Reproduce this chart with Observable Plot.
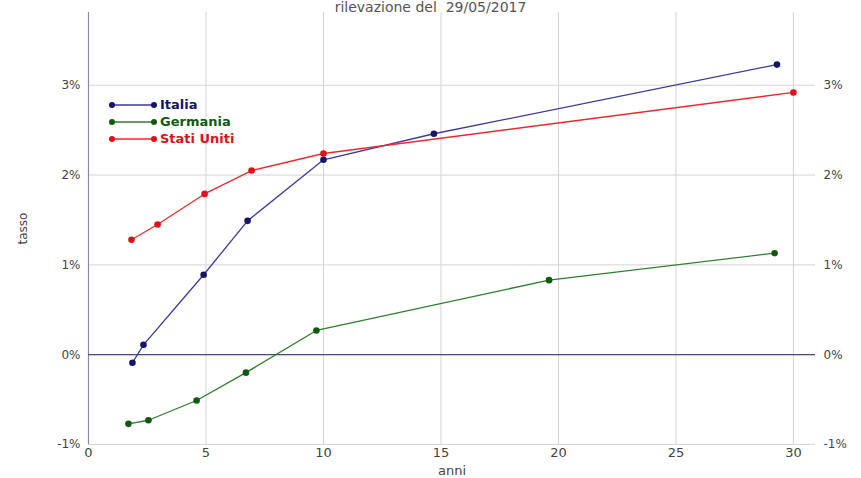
<!DOCTYPE html>
<html><head><meta charset="utf-8">
<script src="https://cdn.jsdelivr.net/npm/d3@7"></script>
<script src="https://cdn.jsdelivr.net/npm/@observablehq/plot@0.6"></script>
<style>
body{margin:0;background:#fff;font-family:"DejaVu Sans",sans-serif;}
#wrap{position:relative;width:861px;height:478px;}
#title{position:absolute;left:0;width:861px;top:-1px;text-align:center;font-size:14px;line-height:16px;color:#555;white-space:pre;font-family:"DejaVu Sans",sans-serif;}
#legend{position:absolute;left:106px;top:96px;font-size:13px;font-weight:bold;}
#legend .row{display:flex;align-items:center;height:17px;}
#legend svg{margin-right:2px;}
</style></head>
<body><div id="wrap"><div id="title"></div><div id="legend"></div></div>
<script>
const titleText = "rilevazione del  29/05/2017";
const seriesNames = ["Italia", "Germania", "Stati Uniti"];
const seriesLine = ["#3a3a9c", "#2e7d2e", "#f0282c"];
const seriesDot = ["#151565", "#125a12", "#e0101a"];
const italiaX = [1.87, 2.34, 4.9, 6.77, 10.0, 14.7, 29.3];
const italiaY = [-0.09, 0.11, 0.89, 1.49, 2.17, 2.46, 3.23];
const germaniaX = [1.7, 2.55, 4.6, 6.7, 9.7, 19.6, 29.2];
const germaniaY = [-0.77, -0.73, -0.51, -0.2, 0.27, 0.83, 1.13];
const usaX = [1.83, 2.94, 4.94, 6.94, 10.0, 30.0];
const usaY = [1.28, 1.45, 1.79, 2.05, 2.24, 2.92];
const xTicks = [0, 5, 10, 15, 20, 25, 30];
const yTicks = [-1, 0, 1, 2, 3];

const xs = [italiaX, germaniaX, usaX], ys = [italiaY, germaniaY, usaY];
const data = [];
seriesNames.forEach((s, i) => xs[i].forEach((x, j) => data.push({serie: s, anni: x, tasso: ys[i][j]})));
const lineColor = d3.scaleOrdinal(seriesNames, seriesLine);
const dotColor = d3.scaleOrdinal(seriesNames, seriesDot);
const fmt = d => `${d}%`;
const font = "DejaVu Sans";

const chart = Plot.plot({
  width: 861, height: 478,
  marginTop: 12, marginBottom: 34, marginLeft: 88, marginRight: 46,
  style: {fontFamily: font, fontSize: "12px", color: "#444", background: "transparent"},
  x: {domain: [0, 30.94]},
  y: {domain: [-1, 3.81]},
  marks: [
    Plot.gridX(xTicks.slice(1), {stroke: "#d4d4d4", strokeOpacity: 1}),
    Plot.gridY(yTicks, {stroke: "#d4d4d4", strokeOpacity: 1}),
    Plot.ruleX([0], {stroke: "#8a8aa0", strokeWidth: 1.2}),
    Plot.ruleY([0], {stroke: "#4a4a78", strokeWidth: 1.2}),
    Plot.axisX(xTicks, {tickSize: 0, tickPadding: 3, tickFormat: d => d, label: "anni", labelAnchor: "center", labelArrow: "none", labelOffset: 30, fontSize: 13, fill: "#444"}),
    Plot.axisY(yTicks, {anchor: "left", tickSize: 0, tickPadding: 8, tickFormat: fmt, label: "tasso", labelAnchor: "center", labelArrow: "none", labelOffset: 70, fill: "#444"}),
    Plot.axisY(yTicks, {anchor: "right", tickSize: 0, tickPadding: 8, tickFormat: fmt, label: null, fill: "#444"}),
    Plot.line(data, {x: "anni", y: "tasso", z: "serie", stroke: d => lineColor(d.serie), strokeWidth: 1.3}),
    Plot.dot(data, {x: "anni", y: "tasso", fill: d => dotColor(d.serie), r: 3.3})
  ]
});
document.getElementById("wrap").appendChild(chart);
document.getElementById("title").textContent = titleText;
const legend = document.getElementById("legend");
seriesNames.forEach((s, i) => {
  const row = document.createElement("div");
  row.className = "row";
  row.innerHTML = `<svg width="52" height="10"><line x1="6" x2="48" y1="5" y2="5" stroke="${seriesLine[i]}" stroke-width="1.3"/><circle cx="6" cy="5" r="3" fill="${seriesDot[i]}"/><circle cx="48" cy="5" r="3" fill="${seriesDot[i]}"/></svg><span style="color:${seriesDot[i]}">${s}</span>`;
  legend.appendChild(row);
});
</script></body></html>
